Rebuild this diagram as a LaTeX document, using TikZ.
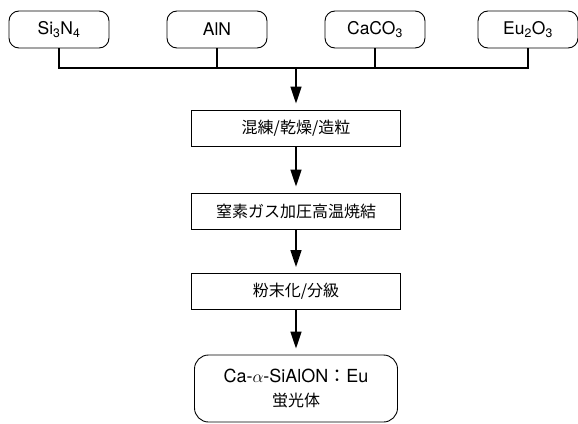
\documentclass[tikz,border=0pt]{standalone}
\usepackage{fontspec}
\setmainfont{TeX Gyre Heros}
\newfontfamily\jp{Noto Sans CJK JP}
\usetikzlibrary{arrows.meta}
\begin{document}
\begin{tikzpicture}[x=1pt,y=-1pt,
  src/.style={draw,line width=0.9pt,rounded corners=10pt,minimum width=100pt,minimum height=37pt,inner sep=0pt,font=\fontsize{17.5}{20}\selectfont},
  proc/.style={draw,line width=0.9pt,minimum width=209pt,minimum height=36pt,inner sep=0pt,font=\jp\fontsize{16}{19}\selectfont},
  fin/.style={draw,line width=0.9pt,rounded corners=14pt,minimum width=203pt,minimum height=67pt,inner sep=0pt,align=center,font=\fontsize{18}{24}\selectfont},
  conn/.style={line width=1.6pt},
  arr/.style={line width=1.6pt,-{Triangle[length=17pt,width=11pt]},shorten >=6pt}]
\useasboundingbox (0,0) rectangle (578,423);
\node[src] (s1) at (59,29.5) {Si\textsubscript{3}N\textsubscript{4}};
\node[src] (s2) at (217,29.5) {AlN};
\node[src] (s3) at (375,29.5) {CaCO\textsubscript{3}};
\node[src] (s4) at (528,29.5) {Eu\textsubscript{2}O\textsubscript{3}};
\node[proc] (b1) at (296,128) {混練/乾燥/造粒};
\node[proc] (b2) at (296,211) {窒素ガス加圧高温焼結};
\node[proc] (b3) at (296,291.5) {粉末化/分級};
\node[fin] (f) at (296,388.5) {Ca-$\alpha$-SiAlON{\jp ：}Eu\\{\jp\fontsize{16}{19}\selectfont 蛍光体}};
\coordinate (hl) at (0,68);
\coordinate (j) at (b1.north |- hl);
\draw[conn] (s1.south) |- (s4.south |- hl) -- (s4.south);
\draw[conn] (s2.south) -- (s2.south |- hl);
\draw[conn] (s3.south) -- (s3.south |- hl);
\draw[arr] (j) -- (b1.north);
\draw[arr] (b1) -- (b2);
\draw[arr] (b2) -- (b3);
\draw[arr] (b3) -- (f);
\end{tikzpicture}
\end{document}
